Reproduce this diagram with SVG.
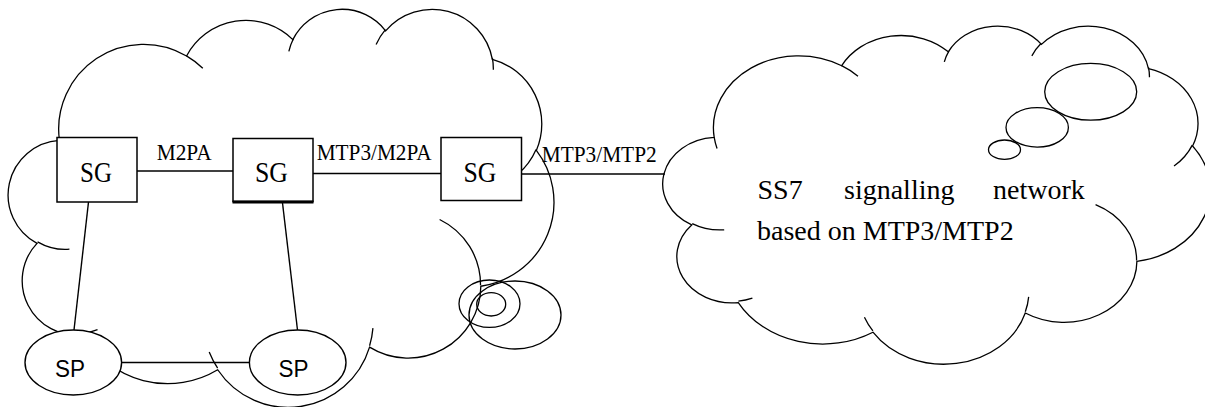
<svg xmlns="http://www.w3.org/2000/svg" xmlns:xlink="http://www.w3.org/1999/xlink" width="1205" height="407" viewBox="0 0 1205 407">
<style>
.cb{fill:#fff;stroke:#000;stroke-width:1.3;vector-effect:non-scaling-stroke}
.ci{fill:none;stroke:#000;stroke-width:1.3;vector-effect:non-scaling-stroke}
.bub{fill:none;stroke:#000;stroke-width:1.3}
.box{fill:#fff;stroke:#000;stroke-width:1.5}
.ell{fill:#fff;stroke:#000;stroke-width:1.4}
.ln{stroke:#000;stroke-width:1.4;fill:none}
.t{font-family:"Liberation Serif","Times New Roman",serif;fill:#000}
.s{font-family:"Liberation Sans",Arial,sans-serif;fill:#000}
</style>
<defs>
<path id="cloudBody" class="cb" d="M3900 14370 A6753 9190 0 0 1 14007 5204 A5333 7267 0 0 1 22458 3432 A4365 5945 0 0 1 29836 2480 A4857 6595 0 0 1 38321 5575 A5333 7273 0 0 1 41821 15459 A6775 9220 0 0 1 37406 30200 A5785 7867 0 0 1 28558 36811 A6752 9215 0 0 1 16484 39266 A7720 10543 0 0 1 5807 35472 A4360 5918 0 0 1 2116 25549 A4345 5945 0 0 1 3900 14370 Z"/>
<path id="cloudInner" class="ci" d="M4693 26177 A4345 5945 0 0 1 2159 25380 M6928 34899 A4360 5918 0 0 1 5820 35281 M16478 39090 A6752 9215 0 0 1 15808 37346 M28827 34751 A6752 9215 0 0 1 28561 36659 M34129 22954 A5785 7867 0 0 1 37380 30090 M41798 15354 A5333 7273 0 0 1 40349 18031 M38324 5426 A4857 6595 0 0 1 38400 6690 M29078 3952 A4857 6595 0 0 1 29820 2340 M22141 4720 A4365 5945 0 0 1 22500 3331 M14000 5192 A6753 9190 0 0 1 15298 6538 M4127 15789 A6753 9190 0 0 1 3900 14371"/>
</defs>

<g id="cloud-left">
<use xlink:href="#cloudBody" transform="translate(10.4 8) scale(0.0125764 0.009213)"/>
<use xlink:href="#cloudInner" transform="translate(10.4 8) scale(0.0125764 0.009213)"/>
<ellipse class="bub" cx="491.2" cy="304.3" rx="14.5" ry="11.7"/>
<ellipse class="bub" cx="489.5" cy="303.7" rx="30.5" ry="23.7"/>
<ellipse class="bub" cx="515" cy="315" rx="46" ry="34"/>
</g>

<g id="cloud-ss7">
<use xlink:href="#cloudBody" transform="translate(665 25) scale(0.0126157 0.0078241)"/>
<use xlink:href="#cloudInner" transform="translate(665 25) scale(0.0126157 0.0078241)"/>
<ellipse class="bub" cx="1090.7" cy="91.8" rx="46" ry="28.4"/>
<ellipse class="bub" cx="1037.2" cy="127.4" rx="31.2" ry="19.7"/>
<ellipse class="bub" cx="1004.5" cy="149.7" rx="16" ry="9.7"/>
<text class="t" font-size="28" y="199"><tspan x="757.5">SS7</tspan><tspan x="844">signalling</tspan><tspan x="993">network</tspan></text>
<text class="t" font-size="28" x="757" y="240">based on MTP3/MTP2</text>
</g>

<g id="connectors">
<line class="ln" x1="137" y1="171" x2="233" y2="171"/>
<line class="ln" x1="313" y1="173.5" x2="441" y2="173.5"/>
<line class="ln" x1="521.5" y1="174" x2="665" y2="174"/>
<line class="ln" x1="88.5" y1="202" x2="74" y2="330"/>
<line class="ln" x1="282.5" y1="203" x2="297.5" y2="330"/>
<line class="ln" x1="121.5" y1="362.5" x2="249.5" y2="362.5"/>
<text class="t" font-size="23" x="156.7" y="160" textLength="55" lengthAdjust="spacingAndGlyphs">M2PA</text>
<text class="t" font-size="23" x="316.7" y="159.5" textLength="115" lengthAdjust="spacingAndGlyphs">MTP3/M2PA</text>
<text class="t" font-size="23" x="541.7" y="162" textLength="115" lengthAdjust="spacingAndGlyphs">MTP3/MTP2</text>
</g>

<g id="sg1">
<rect class="box" x="57" y="137.5" width="80" height="64.5"/>
<text class="t" font-size="30" x="80" y="181.5" textLength="32" lengthAdjust="spacingAndGlyphs">SG</text>
</g>
<g id="sg2">
<rect class="box" x="233" y="138.5" width="80" height="63"/>
<line x1="232.5" y1="202" x2="313.5" y2="202" stroke="#000" stroke-width="3"/>
<text class="t" font-size="30" x="255" y="181.5" textLength="33" lengthAdjust="spacingAndGlyphs">SG</text>
</g>
<g id="sg3">
<rect class="box" x="441" y="137.5" width="80.5" height="63"/>
<text class="t" font-size="30" x="463.5" y="181.5" textLength="33" lengthAdjust="spacingAndGlyphs">SG</text>
</g>
<g id="sp1">
<ellipse class="ell" cx="73.3" cy="362.5" rx="48.3" ry="32.5"/>
<text class="s" font-size="23" x="55" y="376.5" textLength="30" lengthAdjust="spacingAndGlyphs">SP</text>
</g>
<g id="sp2">
<ellipse class="ell" cx="297.7" cy="362.5" rx="48.3" ry="32.5"/>
<text class="s" font-size="23" x="278.5" y="376.5" textLength="30" lengthAdjust="spacingAndGlyphs">SP</text>
</g>
</svg>
